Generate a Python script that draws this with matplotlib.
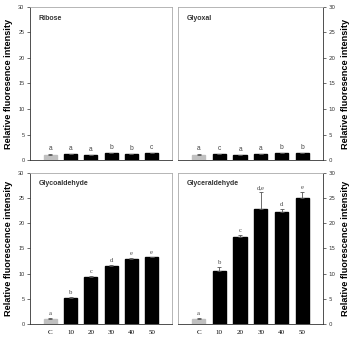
import numpy as np
import matplotlib.pyplot as plt

# ——— DATA ———
groups = ['C', '10', '20', '30', '40', '50']

ribose      = [1.0, 1.1, 1.0, 1.3, 1.2, 1.3]
ribose_err  = [0.1, 0.05, 0.05, 0.05, 0.05, 0.05]
ribose_lbl  = ['a', 'a', 'a', 'b', 'b', 'c']

glyoxal     = [1.0, 1.1, 1.0, 1.1, 1.3, 1.4]
glyoxal_err = [0.1, 0.05, 0.05, 0.05, 0.05, 0.05]
glyoxal_lbl = ['a', 'c', 'a', 'a', 'b', 'b']

glycol      = [1.0, 5.1, 9.3, 11.6, 12.8, 13.2]
glycol_err  = [0.1, 0.2, 0.2, 0.2, 0.3, 0.1]
glycol_lbl  = ['a', 'b', 'c', 'd', 'e', 'e']

glycer      = [1.0, 10.6, 17.3, 22.9, 22.3, 25.0]
glycer_err  = [0.1, 0.8, 0.3, 3.3, 0.6, 1.2]
glycer_lbl  = ['a', 'b', 'c', 'd,e', 'd', 'e']

SANS  = 'Liberation Sans'
SERIF = 'Liberation Serif'


def panel(ax, vals, errs, letters, title, ylabel, right=False, xticks=False, serif_lbl=False):
    x = np.arange(len(vals))
    colors = ['#c0c0c0'] + ['black'] * (len(vals) - 1)
    ax.bar(x, vals, width=0.64, color=colors, edgecolor=colors, zorder=2)
    ax.errorbar(x, vals, yerr=[np.zeros(len(errs)), errs], fmt='none',
                ecolor='#555555', elinewidth=0.6, capsize=1.5, capthick=0.6, zorder=3)
    for xi, v, e, t in zip(x, vals, errs, letters):
        ax.text(xi, v + e + 0.4, t, ha='center', va='bottom', fontsize=4.8,
                family=SERIF if serif_lbl else SANS, color='#444444')
    ax.set_xlim(-1, 6)
    ax.set_ylim(0, 30)
    ax.set_yticks([0, 5, 10, 15, 20, 25, 30])
    ax.tick_params(axis='y', labelsize=4, length=2, width=0.5, pad=2, colors='#333333')
    if xticks:
        ax.set_xticks(x)
        ax.set_xticklabels(groups, fontsize=5, family=SERIF)
        ax.tick_params(axis='x', length=0, pad=4)
    else:
        ax.set_xticks([])
    for lab in ax.get_yticklabels():
        lab.set_family(SANS)
    ax.text(0.06, 0.95, title, transform=ax.transAxes, ha='left', va='top',
            fontsize=5, fontweight='bold', family=SANS, color='#333333')
    ax.set_ylabel(ylabel, fontsize=6.6, fontweight='bold', family=SANS, labelpad=4)
    for s in ax.spines.values():
        s.set_color('#aaaaaa')
        s.set_linewidth(0.6)
    ax.spines['bottom'].set_color('#333333')
    if right:
        ax.yaxis.tick_right()
        ax.yaxis.set_label_position('right')
        ax.spines['right'].set_color('#333333')
    else:
        ax.spines['left'].set_color('#333333')


fig = plt.figure(figsize=(3.53, 3.45), dpi=100)
ax1 = fig.add_axes([0.085, 0.536, 0.402, 0.444])
ax2 = fig.add_axes([0.504, 0.536, 0.411, 0.444])
ax3 = fig.add_axes([0.085, 0.061, 0.402, 0.438])
ax4 = fig.add_axes([0.504, 0.061, 0.411, 0.438])

panel(ax1, ribose, ribose_err, ribose_lbl, 'Ribose', 'Relative fluoresence intensity')
panel(ax2, glyoxal, glyoxal_err, glyoxal_lbl, 'Glyoxal', 'Relative fluoresence intensity', right=True)
panel(ax3, glycol, glycol_err, glycol_lbl, 'Glycoaldehyde', 'Relative fluorescence intensity',
      xticks=True, serif_lbl=True)
panel(ax4, glycer, glycer_err, glycer_lbl, 'Glyceraldehyde', 'Relative fluorescence intensity',
      right=True, xticks=True, serif_lbl=True)

fig.savefig('out.png', dpi=100)
